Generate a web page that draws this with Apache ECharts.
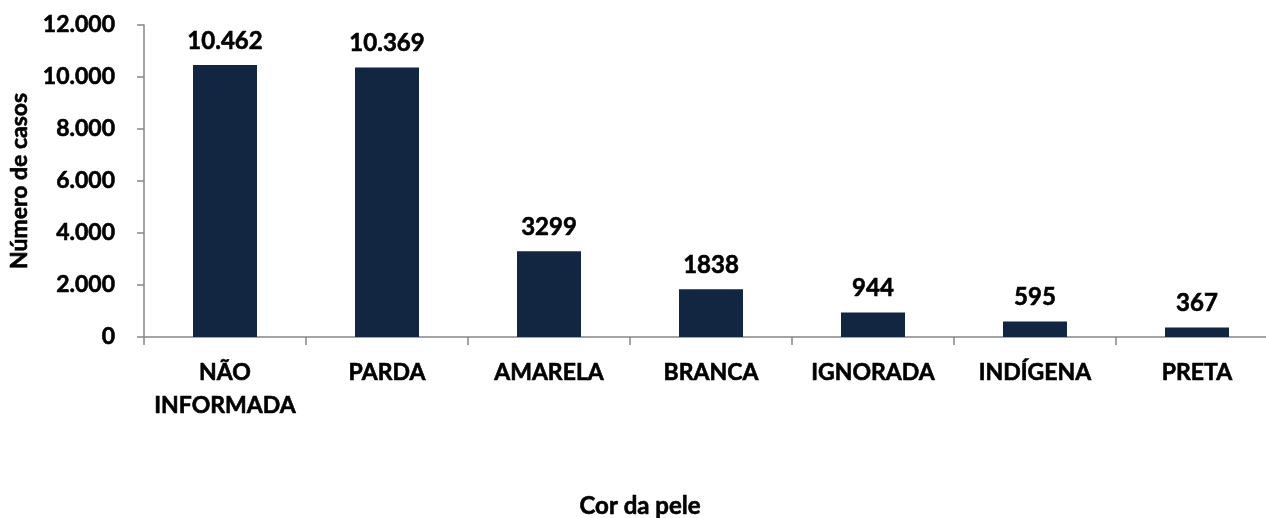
<!DOCTYPE html>
<html>
<head>
<meta charset="utf-8">
<script src="https://cdn.jsdelivr.net/npm/echarts@6/dist/echarts.min.js"></script>
<style>
	html, body { margin: 0; padding: 0; background: #fff; }
	#chart { width: 1266px; height: 518px; }
</style>
</head>
<body>
<div id="chart"></div>
<script>
// dados
var categorias = ['NÃO\nINFORMADA', 'PARDA', 'AMARELA', 'BRANCA', 'IGNORADA', 'INDÍGENA', 'PRETA'];
var casos = [10462, 10369, 3299, 1838, 944, 595, 367];
var rotulos = ['10.462', '10.369', '3299', '1838', '944', '595', '367'];
var yTicks = [0, 2000, 4000, 6000, 8000, 10000, 12000];

var fonte = 'Lato, "Open Sans", sans-serif';
// contorno fino para deixar o negrito mais pesado (parecido com Calibri)
var grosso = { textBorderColor: '#000', textBorderWidth: 0.6 };

function fmtMil(v) {
	if (v === 0) return '0';
	return String(v).replace(/\B(?=(\d{3})+(?!\d))/g, '.');
}

var chartDom = document.getElementById('chart');
var myChart = echarts.init(chartDom);
var option = {
	animation: false,
	textStyle: { fontFamily: fonte },
	grid: {
		left: 144,
		top: 25,
		width: 1134, // o eixo continua além da borda direita
		height: 312,
		outerBoundsMode: 'none',
		containLabel: false,
	},
	xAxis: {
		type: 'category',
		data: categorias,
		axisLine: { lineStyle: { color: '#868686', width: 1.5 } },
		axisTick: { show: true, length: 8, lineStyle: { color: '#868686', width: 1.5 } },
		axisLabel: Object.assign({
			color: '#000',
			fontWeight: 'bold',
			fontSize: 23,
			fontFamily: fonte,
			lineHeight: 33,
			margin: 19,
			interval: 0,
		}, grosso),
	},
	yAxis: {
		type: 'value',
		min: yTicks[0],
		max: yTicks[yTicks.length - 1],
		interval: 2000,
		name: 'Número de casos',
		nameLocation: 'middle',
		nameGap: 107,
		nameTextStyle: Object.assign({ color: '#000', fontWeight: 'bold', fontSize: 23, fontFamily: fonte }, grosso),
		axisLine: { show: true, lineStyle: { color: '#868686', width: 1.5 } },
		axisTick: { show: true, length: 7, lineStyle: { color: '#868686', width: 1.5 } },
		splitLine: { show: false },
		axisLabel: Object.assign({
			color: '#000',
			fontWeight: 'bold',
			fontSize: 23,
			fontFamily: fonte,
			margin: 29,
			formatter: fmtMil,
		}, grosso),
	},
	series: [
		{
			type: 'bar',
			data: casos,
			barWidth: 64,
			itemStyle: { color: '#132641' },
			label: Object.assign({
				show: true,
				position: 'top',
				distance: 12,
				color: '#000',
				fontWeight: 'bold',
				fontSize: 24,
				fontFamily: fonte,
				formatter: function (p) { return rotulos[p.dataIndex]; },
			}, grosso),
		},
	],
	graphic: [
		{
			type: 'text',
			x: 640,
			y: 506,
			style: {
				text: 'Cor da pele',
				fill: '#000',
				stroke: '#000',
				lineWidth: 0.6,
				font: 'bold 24px ' + fonte,
				textAlign: 'center',
				textVerticalAlign: 'middle',
			},
		},
	],
};
myChart.setOption(option);
</script>
</body>
</html>
